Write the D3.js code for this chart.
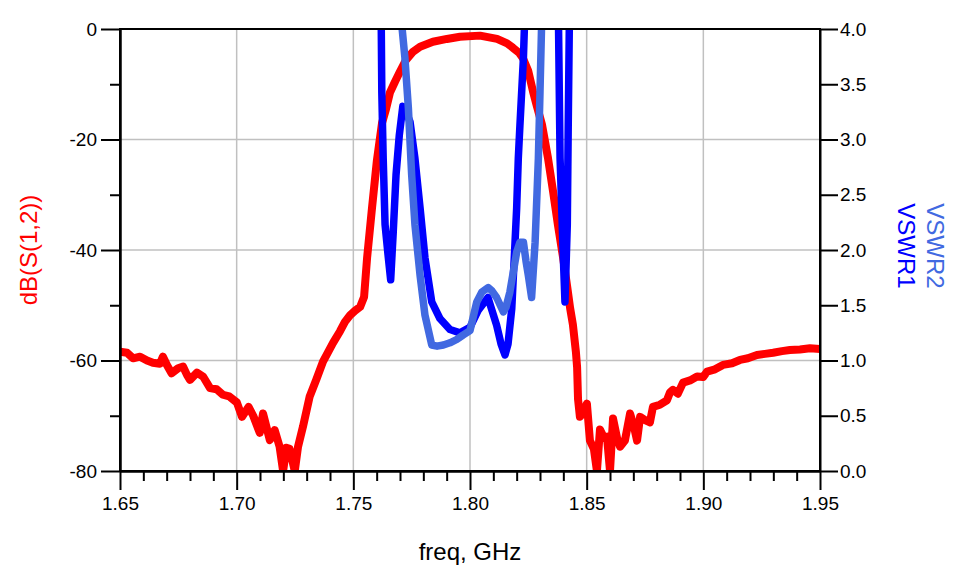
<!DOCTYPE html>
<html lang="en">
<head>
<meta charset="UTF-8">
<title>dB(S(1,2)) and VSWR vs freq</title>
<script src="https://cdn.jsdelivr.net/npm/d3@7/dist/d3.min.js"></script>
<style>
    body {
        margin: 0;
        background: #fff;
        font-family: "Liberation Sans", Arial, sans-serif;
    }
    .grid line {
        stroke: #c0c0c0;
        stroke-width: 1.5px;
    }
    .axis line, .axis path {
        stroke: #000;
        stroke-width: 2px;
    }
    .axis text {
        font-family: "Liberation Sans", Arial, sans-serif;
        font-size: 19px;
        fill: #000;
    }
    .trace {
        fill: none;
        stroke-linejoin: round;
        stroke-linecap: butt;
    }
    .label {
        font-family: "Liberation Sans", Arial, sans-serif;
        font-size: 24px;
    }
</style>
</head>
<body>
<svg id="chart" width="960" height="574"></svg>
<script>
// dB(S(1,2)) trace
const freqS12 = [1.6500, 1.6530, 1.6556, 1.6586, 1.6616, 1.6641, 1.6671, 1.6684, 1.6701, 1.6721,
                 1.6749, 1.6770, 1.6787, 1.6800, 1.6830, 1.6856, 1.6886, 1.6914, 1.6941, 1.6968,
                 1.7001, 1.7023, 1.7051, 1.7071, 1.7099, 1.7113, 1.7142, 1.7163, 1.7184, 1.7199,
                 1.7213, 1.7227, 1.7249, 1.7263, 1.7284, 1.7313, 1.7341, 1.7370, 1.7413, 1.7443,
                 1.7464, 1.7486, 1.7507, 1.7529, 1.7546, 1.7559, 1.7580, 1.7601, 1.7623, 1.7640,
                 1.7657, 1.7679, 1.7700, 1.7726, 1.7756, 1.7786, 1.7841, 1.7901, 1.7957, 1.8043,
                 1.8116, 1.8159, 1.8184, 1.8210, 1.8227, 1.8249, 1.8270, 1.8287, 1.8309, 1.8334,
                 1.8356, 1.8377, 1.8399, 1.8416, 1.8429, 1.8441, 1.8454, 1.8459, 1.8463, 1.8471,
                 1.8484, 1.8501, 1.8514, 1.8531, 1.8544, 1.8557, 1.8574, 1.8587, 1.8600, 1.8613,
                 1.8630, 1.8643, 1.8664, 1.8686, 1.8703, 1.8716, 1.8729, 1.8750, 1.8771, 1.8784,
                 1.8814, 1.8844, 1.8857, 1.8870, 1.8891, 1.8913, 1.8943, 1.8973, 1.8999, 1.9016,
                 1.9050, 1.9084, 1.9123, 1.9157, 1.9191, 1.9230, 1.9264, 1.9299, 1.9337, 1.9371,
                 1.9414, 1.9457, 1.9500];
const s12dB = [-58.4, -58.6, -59.6, -59.3, -60.0, -60.4, -60.6, -59.3, -60.8, -62.3,
               -61.4, -61.1, -62.6, -63.5, -62.2, -62.9, -65.0, -65.2, -66.2, -66.5,
               -67.6, -70.2, -68.4, -70.0, -73.1, -69.6, -74.4, -72.6, -75.6, -80.0,
               -75.8, -76.0, -80.0, -75.6, -72.0, -66.5, -63.5, -60.2, -56.8, -54.7,
               -53.0, -51.8, -51.0, -50.3, -48.5, -41.4, -32.4, -23.8, -17.0, -14.5,
               -11.5, -9.5, -7.7, -5.6, -4.1, -3.2, -2.3, -1.8, -1.4, -1.2,
               -1.8, -2.6, -3.4, -4.3, -5.3, -7.5, -11.3, -14.0, -17.4, -23.3,
               -29.4, -35.5, -41.4, -46.5, -50.5, -53.5, -58.5, -61.2, -67.0, -70.2,
               -69.5, -67.8, -74.5, -76.0, -80.0, -72.5, -74.0, -73.8, -80.0, -70.5,
               -74.0, -75.6, -74.5, -69.6, -72.0, -74.5, -70.2, -70.8, -71.2, -68.4,
               -68.0, -67.2, -65.8, -65.3, -66.0, -64.0, -63.6, -62.9, -63.0, -62.0,
               -61.6, -60.8, -60.5, -59.9, -59.6, -59.0, -58.8, -58.6, -58.3, -58.1,
               -58.0, -57.8, -57.9];

// VSWR1 trace (values above 4 run off the top of the plot)
const freqVswr1 = [1.7614, 1.7619, 1.7622, 1.7628, 1.7636, 1.7650, 1.7660, 1.7671, 1.7683, 1.7697,
                   1.7712, 1.7726, 1.7743, 1.7764, 1.7786, 1.7807, 1.7836, 1.7871, 1.7914, 1.7957,
                   1.8000, 1.8034, 1.8077, 1.8114, 1.8133, 1.8150, 1.8163, 1.8179, 1.8193, 1.8200,
                   1.8207, 1.8214, 1.8229, 1.8236, 1.8245, 1.8320, 1.8372, 1.8379, 1.8386, 1.8400,
                   1.8407, 1.8417, 1.8421, 1.8426, 1.8433];
const vswr1 = [6.0, 4.2, 3.43, 2.83, 2.23, 1.93, 1.73, 2.16, 2.68, 3.04,
               3.30, 3.25, 3.16, 2.83, 2.38, 1.93, 1.53, 1.38, 1.28, 1.25,
               1.30, 1.45, 1.57, 1.32, 1.15, 1.05, 1.15, 1.47, 2.07, 2.38,
               2.83, 3.13, 3.74, 4.2, 6.0, 8.0, 6.0, 4.1, 2.83, 1.93,
               1.53, 2.23, 3.13, 4.1, 6.0];

// VSWR2 trace
const freqVswr2 = [1.7700, 1.7707, 1.7721, 1.7736, 1.7750, 1.7764, 1.7786, 1.7807, 1.7836, 1.7859,
                   1.7886, 1.7914, 1.7943, 1.7970, 1.8000, 1.8029, 1.8051, 1.8078, 1.8094, 1.8114,
                   1.8143, 1.8154, 1.8171, 1.8200, 1.8214, 1.8229, 1.8240, 1.8250, 1.8264, 1.8279,
                   1.8293, 1.8300, 1.8307, 1.8313];
const vswr2 = [6.0, 4.05, 3.74, 3.28, 2.68, 2.23, 1.77, 1.41, 1.14, 1.13,
               1.14, 1.16, 1.19, 1.23, 1.27, 1.53, 1.62, 1.66, 1.63, 1.57,
               1.44, 1.48, 1.62, 1.98, 2.07, 2.07, 1.90, 1.77, 1.57, 2.07,
               2.83, 3.43, 4.05, 6.0];

// axis ticks
const xTicks = [1.65, 1.70, 1.75, 1.80, 1.85, 1.90, 1.95];
const xMinorTicks = d3.range(165, 196).filter(v => v % 5 !== 0).map(v => v / 100);
const yLeftTicks = [0, -20, -40, -60, -80];
const yLeftMinorTicks = [-10, -30, -50, -70];
const yRightTicks = [0.0, 0.5, 1.0, 1.5, 2.0, 2.5, 3.0, 3.5, 4.0];
const xGrid = [1.70, 1.75, 1.80, 1.85, 1.90];
const yGrid = [-20, -40, -60];

const margin = { top: 29, right: 140, bottom: 103, left: 120 },
      width = 960 - margin.left - margin.right,
      height = 574 - margin.top - margin.bottom;

const svg = d3.select("#chart");
const plot = svg.append("g").attr("transform", `translate(${margin.left},${margin.top})`);

const x = d3.scaleLinear().domain([1.65, 1.95]).range([0, width]);
const yL = d3.scaleLinear().domain([-80, 0]).range([height, 0]);
const yR = d3.scaleLinear().domain([0, 4]).range([height, 0]);

// grid
const grid = plot.append("g").attr("class", "grid");
grid.selectAll(".gx").data(xGrid).enter().append("line")
    .attr("x1", d => x(d)).attr("x2", d => x(d))
    .attr("y1", 0).attr("y2", height);
grid.selectAll(".gy").data(yGrid).enter().append("line")
    .attr("x1", 0).attr("x2", width)
    .attr("y1", d => yL(d)).attr("y2", d => yL(d));

// traces, clipped to the plot box
svg.append("defs").append("clipPath").attr("id", "clip")
    .append("rect").attr("width", width).attr("height", height);
const traces = plot.append("g").attr("clip-path", "url(#clip)");

const lineL = d3.line().x(d => x(d[0])).y(d => yL(d[1]));
const lineR = d3.line().x(d => x(d[0])).y(d => yR(d[1]));

traces.append("path").attr("class", "trace")
    .attr("stroke", "#ff0000").attr("stroke-width", 8)
    .attr("d", lineL(d3.zip(freqS12, s12dB)));
traces.append("path").attr("class", "trace")
    .attr("stroke", "#0000ff").attr("stroke-width", 7.5)
    .attr("d", lineR(d3.zip(freqVswr1, vswr1)));
traces.append("path").attr("class", "trace")
    .attr("stroke", "#4169e1").attr("stroke-width", 7.5)
    .attr("d", lineR(d3.zip(freqVswr2, vswr2)));

// frame
plot.append("rect")
    .attr("width", width).attr("height", height)
    .attr("fill", "none").attr("stroke", "#000").attr("stroke-width", 2);

// axes
plot.append("g").attr("class", "axis")
    .attr("transform", `translate(0,${height})`)
    .call(d3.axisBottom(x).tickValues(xTicks).tickSize(19).tickSizeOuter(0).tickPadding(7)
        .tickFormat(d => d.toFixed(2)));
plot.append("g").attr("class", "axis")
    .attr("transform", `translate(0,${height})`)
    .call(d3.axisBottom(x).tickValues(xMinorTicks).tickSize(10).tickSizeOuter(0).tickFormat(""));

plot.append("g").attr("class", "axis")
    .call(d3.axisLeft(yL).tickValues(yLeftTicks).tickSize(19).tickSizeOuter(0).tickPadding(4)
        .tickFormat(d => String(d)));
plot.append("g").attr("class", "axis")
    .call(d3.axisLeft(yL).tickValues(yLeftMinorTicks).tickSize(10).tickSizeOuter(0).tickFormat(""));

plot.append("g").attr("class", "axis")
    .attr("transform", `translate(${width},0)`)
    .call(d3.axisRight(yR).tickValues(yRightTicks).tickSize(18).tickSizeOuter(0).tickPadding(2)
        .tickFormat(d => d.toFixed(1)));

// axis titles
svg.append("text").attr("class", "label")
    .attr("x", 470).attr("y", 560)
    .attr("text-anchor", "middle")
    .attr("fill", "#000")
    .text("freq, GHz");

svg.append("text").attr("class", "label")
    .attr("transform", "translate(37,250) rotate(-90)")
    .attr("text-anchor", "middle")
    .attr("fill", "#ff0000")
    .text("dB(S(1,2))");

svg.append("text").attr("class", "label")
    .attr("transform", "translate(898,246) rotate(90)")
    .attr("text-anchor", "middle")
    .attr("fill", "#0000ff")
    .text("VSWR1");

svg.append("text").attr("class", "label")
    .attr("transform", "translate(927,246) rotate(90)")
    .attr("text-anchor", "middle")
    .attr("fill", "#4169e1")
    .text("VSWR2");
</script>
</body>
</html>
